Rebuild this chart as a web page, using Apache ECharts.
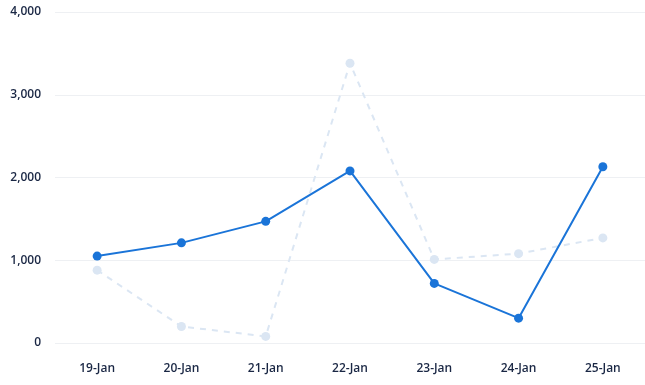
<!DOCTYPE html>
<html><head><meta charset="utf-8">
<script src="https://cdn.jsdelivr.net/npm/echarts@6/dist/echarts.min.js"></script>
<style>html,body{margin:0;padding:0;background:#fff}#c{width:645px;height:385px}</style>
</head><body><div id="c"></div>
<script>
const categories = ['19-Jan','20-Jan','21-Jan','22-Jan','23-Jan','24-Jan','25-Jan'];
const currentValues = [1050, 1210, 1470, 2080, 720, 300, 2130];
const previousValues = [880, 200, 80, 3380, 1010, 1080, 1270];
const yTicks = [0, 1000, 2000, 3000, 4000];

const chart = echarts.init(document.getElementById('c'));
chart.setOption({
  animation: false,
  grid: {left: 55, right: -3, top: 12, bottom: 42},
  xAxis: {
    type: 'category', data: categories, boundaryGap: true,
    axisLine: {show: false}, axisTick: {show: false},
    axisLabel: {color: '#1a2744', fontFamily: 'Open Sans', fontSize: 12, fontWeight: 600, margin: 20}
  },
  yAxis: {
    type: 'value', min: yTicks[0], max: yTicks[yTicks.length-1], interval: 1000,
    axisLine: {show: false}, axisTick: {show: false},
    splitLine: {lineStyle: {color: '#eef0f3', width: 1}},
    axisLabel: {color: '#1a2744', fontFamily: 'Open Sans', fontSize: 12, fontWeight: 600, margin: 14,
      formatter: v => v.toLocaleString('en-US')}
  },
  series: [
    {type: 'line', data: previousValues, symbol: 'circle', symbolSize: 9,
      lineStyle: {color: '#dbe6f3', width: 2, type: [6, 6]},
      itemStyle: {color: '#dbe6f3'}, z: 1},
    {type: 'line', data: currentValues, symbol: 'circle', symbolSize: 9,
      lineStyle: {color: '#1a74d8', width: 2},
      itemStyle: {color: '#1a74d8'}, z: 2}
  ]
});
</script></body></html>
